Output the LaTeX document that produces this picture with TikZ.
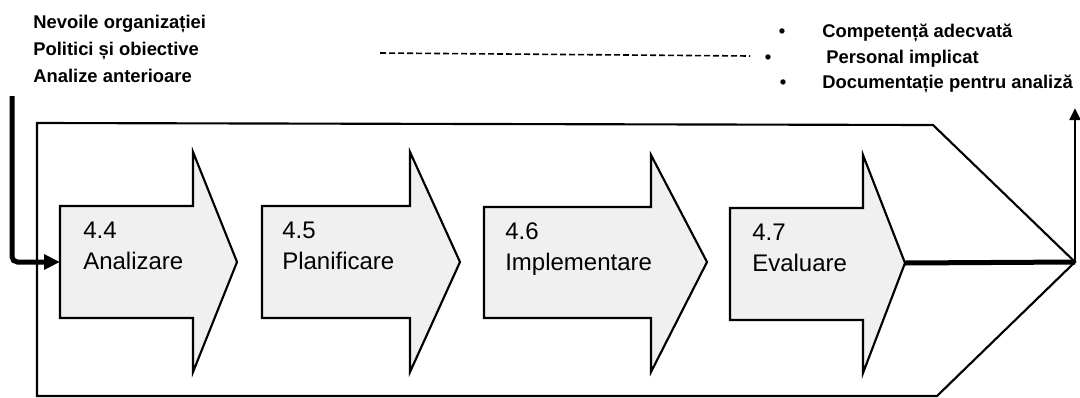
\documentclass[tikz,border=0pt]{standalone}
\usepackage{fontspec}
\setmainfont{Liberation Sans}
\usetikzlibrary{arrows.meta}

\begin{document}
\begin{tikzpicture}[x=0.75pt, y=-0.75pt,
	stage/.style={draw=black, line width=1.6pt, fill=gray!12},
	frame/.style={draw=black, line width=1.6pt},
	stagetext/.style={anchor=base west, align=left, inner sep=0pt,
					  font=\fontsize{18}{23.25}\selectfont},
	note/.style={anchor=base west, inner sep=0pt,
				 font=\fontsize{13.8}{18}\selectfont\bfseries},
	dot/.style={anchor=base, inner sep=0pt,
				font=\fontsize{13.8}{18}\selectfont\bfseries},
	flow/.style={line width=3.75pt}]
	\useasboundingbox (0,0) rectangle (1080,397);

	\draw[frame] (37,123) -- (933,125) -- (1075,262) -- (937,396) -- (37,396) -- cycle;
	\coordinate (bigtip) at (1075,262);

	\draw[stage] (60,206) -- (193,206) -- (193,152) -- (237,262)
				 -- (193,372) -- (193,318) -- (60,318) -- cycle;
	\draw[stage] (262,206) -- (410,206) -- (410,152) -- (460,262)
				 -- (410,372) -- (410,318) -- (262,318) -- cycle;
	\draw[stage] (484,207) -- (651,207) -- (651,155) -- (707,262)
				 -- (651,372) -- (651,318) -- (484,318) -- cycle;
	\draw[stage] (730,208) -- (863,208) -- (863,155) -- (905,263)
				 -- (863,373) -- (863,320) -- (730,320) -- cycle;
	\coordinate (a44) at (60,262);
	\coordinate (tip47) at (905,263);

	\draw (83,269) node[stagetext](s44){4.4\\Analizare};
	\draw (282,269) node[stagetext](s45){4.5\\Planificare};
	\draw (505,270) node[stagetext](s46){4.6\\Implementare};
	\draw (752,271) node[stagetext](s47){4.7\\Evaluare};

	\draw (33,28) node[note](needs){Nevoile organizației};
	\draw (33,55) node[note](policy){Politici și obiective};
	\draw (33,82) node[note](prior){Analize anterioare};

	\draw (782,37) node[dot](b1){•};
	\draw (768,63) node[dot](b2){•};
	\draw (783,88) node[dot](b3){•};
	\draw (822,37) node[note](skill){Competență adecvată};
	\draw (826,63) node[note](staff){Personal implicat};
	\draw (822,88) node[note](docs){Documentație pentru analiză};

	\coordinate (in) at (12,96);
	\coordinate (out) at (1075,108);
	\coordinate (dashL) at (380,53);
	\coordinate (dashR) at (750,56);

	\draw[line width=1.2pt, dash pattern=on 4.5pt off 2.25pt](dashL) -- (dashR);
	\draw[flow, rounded corners=4pt, -{Triangle[length=12pt, width=11pt]}](in) |- (a44);
	\draw[flow](tip47) -- (bigtip);
	\draw[line width=2.2pt, -{Triangle[length=9pt, width=8pt]}](bigtip) -- (out);
\end{tikzpicture}
\end{document}
